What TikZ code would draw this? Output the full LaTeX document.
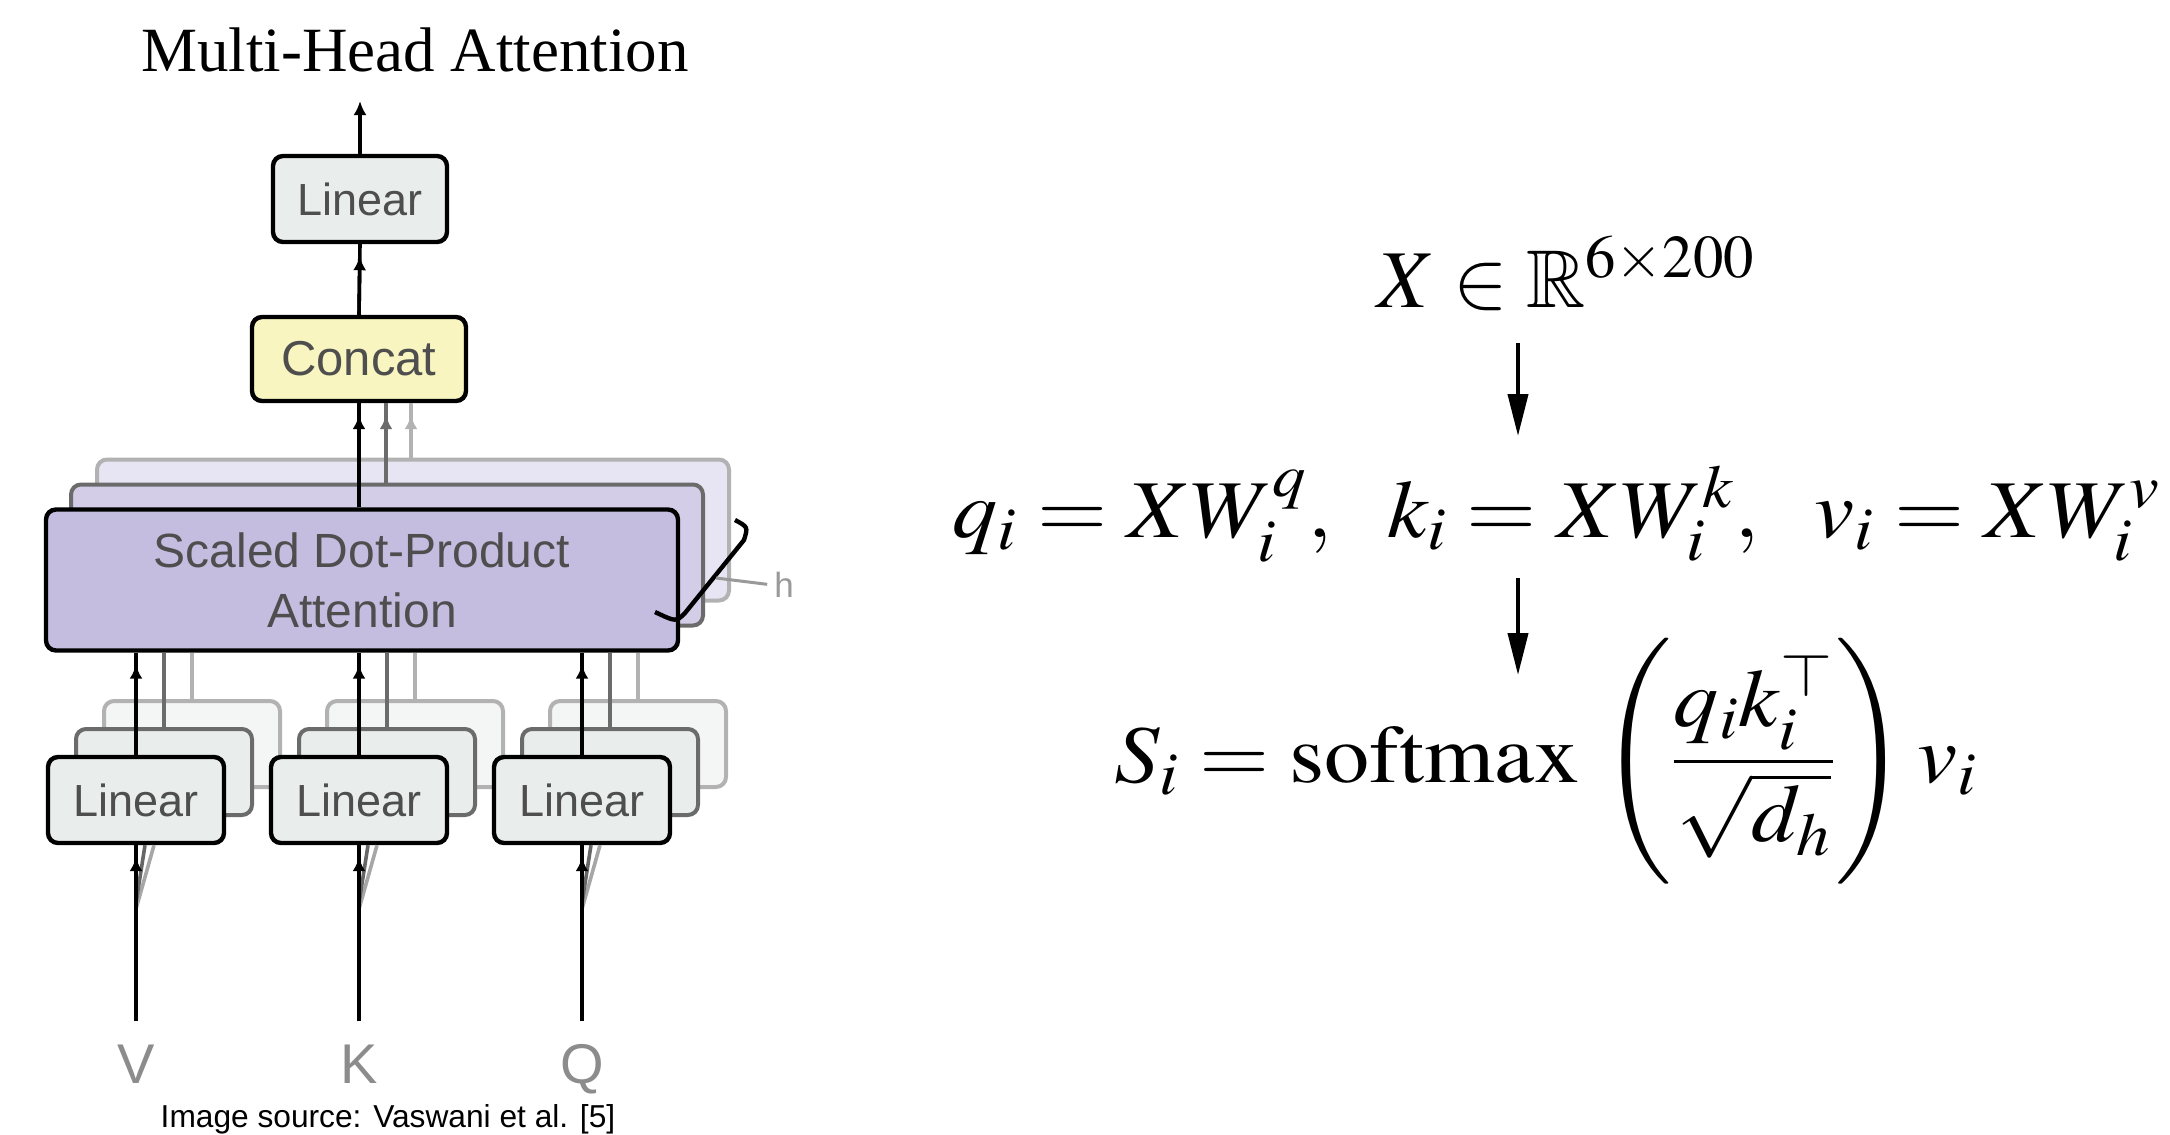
\documentclass[tikz,border=0pt]{standalone}
\usepackage{amssymb}
\usepackage{mathptmx}
\usepackage{graphicx}
\usepackage{fontspec}
\setmainfont{Liberation Serif}
\setsansfont{Liberation Sans}
\usetikzlibrary{positioning,arrows.meta}

\definecolor{linfill}{RGB}{233,238,236}
\definecolor{catfill}{RGB}{248,245,192}
\definecolor{attfill}{RGB}{196,189,224}
\definecolor{boxtext}{RGB}{78,78,78}

\begin{document}
\begin{tikzpicture}[x=0.5pt, y=-0.5pt,
    block/.style={draw, line width=2.2pt, rounded corners=5pt, inner sep=0pt,
      font=\sffamily\fontsize{22.5pt}{27pt}\selectfont, text=boxtext, align=center},
    linbox/.style={block, fill=linfill, minimum width=88pt, minimum height=43pt},
    attbox/.style={block, fill=attfill, minimum width=316pt, minimum height=70.5pt,
      font=\sffamily\fontsize{24pt}{28pt}\selectfont},
    ghostA/.style={draw=black!58, line width=2pt},
    ghostB/.style={draw=black!30, line width=2pt},
    wire/.style={line width=1.8pt},
    feed/.style={-{Latex[length=7pt,width=6.5pt]}, shorten >=6pt},
    inlab/.style={font=\sffamily\fontsize{28pt}{32pt}\selectfont, text=black!45,
      text height=20pt, inner sep=0pt, outer sep=11pt, anchor=base},
    eq/.style={inner sep=0pt, anchor=base west,
      font=\fontsize{41pt}{48pt}\selectfont},
    bigarrow/.style={line width=2pt, -{Triangle[length=21pt,width=10pt]}}]
  \useasboundingbox (0,0) rectangle (2170,1135);

  % title and source line
  \node[font=\fontsize{31.5pt}{36pt}\selectfont, anchor=base] (title) at (415,71) {Multi-Head Attention};
  \node[font=\sffamily\fontsize{15.85pt}{18pt}\selectfont, anchor=base] (src) at (388,1127) {Image source: Vaswani et al. [5]};

  % output projection and concat
  \node[linbox, minimum width=87pt] (linOut) at (360,199) {Linear};
  \node[block, fill=catfill, minimum width=107pt, minimum height=42pt,
    font=\sffamily\fontsize{24.5pt}{28pt}\selectfont] (concat) at (359,359) {Concat};
  \coordinate (out) at (360,101);
  \draw[wire, -{Latex[length=7pt,width=6.5pt]}] (linOut.north) -- (out);
  \draw[wire] (concat.north) -- (linOut.south) (concat.north) edge[feed] (linOut.south);

  % attention heads, stacked h times
  \node[attbox, ghostB, fill=attfill!40!white] (sdpa2) at (413,530) {};
  \node[attbox, ghostA, fill=attfill!75!white] (sdpa1) at (387,555) {};
  \node[attbox] (sdpa) at (362,580) {Scaled Dot-Product\\[2pt]Attention};

  \draw[wire] (concat.south |- sdpa.north) -- (concat.south)
    (concat.south |- sdpa.north) edge[feed] (concat.south);
  \draw[wire, black!58] ([xshift=13.5pt]concat.south |- sdpa1.north) -- ([xshift=13.5pt]concat.south)
    ([xshift=13.5pt]concat.south |- sdpa1.north) edge[feed] ([xshift=13.5pt]concat.south);
  \draw[wire, black!30] ([xshift=26pt]concat.south |- sdpa2.north) -- ([xshift=26pt]concat.south)
    ([xshift=26pt]concat.south |- sdpa2.north) edge[feed] ([xshift=26pt]concat.south);

  % the "h" marker
  \draw[line width=2.2pt] (735,520) .. controls (748,527) .. (744,540) -- (685,613)
    .. controls (676,622) .. (655,612);
  \node[font=\sffamily\fontsize{17.5pt}{20pt}\selectfont, text=black!40, anchor=base] (hLab) at (784,597) {h};
  \draw[black!40, line width=1.5pt] (716,578) -- (hLab.west);

  % linear projections of V, K, Q
  \foreach \n/\x in {V/136,K/359,Q/582} {
    \node[linbox, ghostB, fill=linfill!50!white] (lin\n2) at (\x+56,744) {};
    \node[linbox, ghostA] (lin\n1) at (\x+28,772) {};
    \draw[wire, black!30] (lin\n2.north) -- (lin\n2.north |- sdpa.south);
    \draw[wire, black!58] (lin\n1.north) -- (lin\n1.north |- sdpa.south);
  }
  \foreach \n/\x in {V/136,K/359,Q/582} {
    \node[linbox] (lin\n) at (\x,800) {Linear};
    \node[inlab] (in\n) at (\x,1083) {\n};
    \draw[wire] (lin\n.north) -- (lin\n.north |- sdpa.south)
      (lin\n.north) edge[feed] (lin\n.north |- sdpa.south);
    \draw[wire, black!35] (in\n.north) ++(0,-112) -- ([xshift=9pt]lin\n.south);
    \draw[wire, black!60] (in\n.north) ++(0,-118) -- ([xshift=4.5pt]lin\n.south);
    \draw[wire] (in\n.north) -- (lin\n.south) (in\n.north) edge[feed] (lin\n.south);
  }

  % equations
  \node[eq] (eqX) at (1377,307) {$X \in \mathbb{R}^{6\times 200}$};
  \node[eq] (eqQKV) at (952,537)
    {\scalebox{1.1}[1]{$q_i = XW_i^q,\ \ k_i = XW_i^k,\ \ v_i = XW_i^v$}};
  \node[eq] (eqS) at (1114,782)
    {\scalebox{1.1}[1]{$\displaystyle S_i = \mathrm{softmax}\,\left(\frac{q_i k_i^{\top}}{\sqrt{d_h}}\right) v_i$}};
  \coordinate (a1s) at (1518,343);
  \coordinate (a1e) at (1518,436);
  \coordinate (a2s) at (1518,578);
  \coordinate (a2e) at (1518,675);
  \draw[bigarrow] (a1s) -- (a1e);
  \draw[bigarrow] (a2s) -- (a2e);
\end{tikzpicture}
\end{document}
